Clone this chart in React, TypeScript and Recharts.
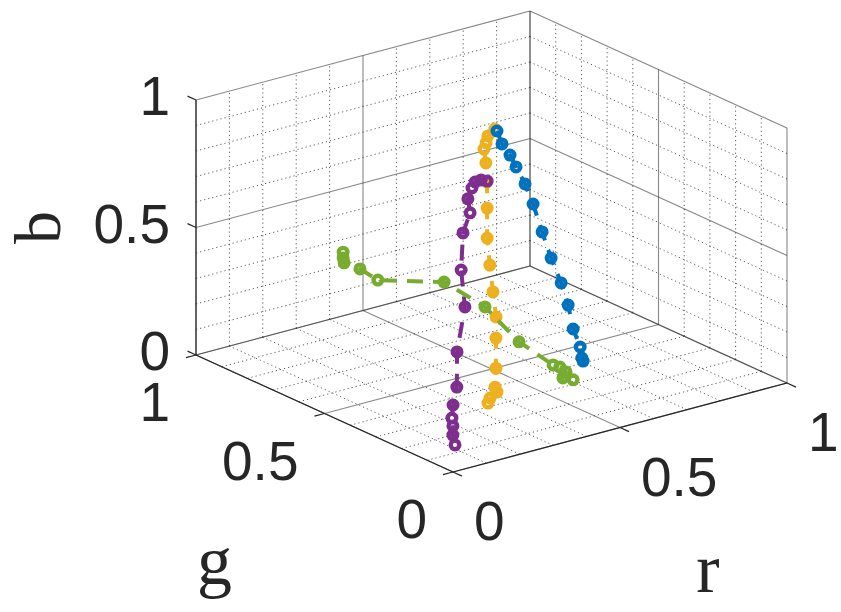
import { ScatterChart, Scatter, XAxis, YAxis } from 'recharts'

const W = 841
const H = 612

// view: screen position of (0,0,0) and the screen step for one unit of r, g, b
const ORIGIN = { x: 453, y: 472 }
const R_DIR = { x: 334, y: -89 }
const G_DIR = { x: -257, y: -117 }
const B_DIR = { x: 0, y: -255 }

// series values (r, g, b)
const YELLOW_R = [0.587, 0.566, 0.553, 0.539, 0.537, 0.525, 0.51, 0.487, 0.472, 0.466, 0.46, 0.444, 0.421, 0.403, 0.401, 0.365, 0.351]
const YELLOW_G = [0.6, 0.6, 0.59, 0.58, 0.57, 0.55, 0.53, 0.5, 0.47, 0.45, 0.43, 0.41, 0.38, 0.36, 0.35, 0.33, 0.32]
const YELLOW_B = [0.865, 0.845, 0.827, 0.812, 0.763, 0.702, 0.614, 0.518, 0.431, 0.337, 0.25, 0.182, 0.086, 0.027, 0.013, 0.011, 0.001]

const BLUE_R = [0.478, 0.493, 0.517, 0.535, 0.562, 0.586, 0.613, 0.64, 0.67, 0.691, 0.706, 0.727, 0.709, 0.705]
const BLUE_G = [0.45, 0.45, 0.45, 0.45, 0.45, 0.45, 0.45, 0.45, 0.45, 0.45, 0.45, 0.45, 0.42, 0.41]
const BLUE_B = [0.964, 0.908, 0.856, 0.803, 0.727, 0.64, 0.521, 0.409, 0.301, 0.207, 0.108, 0.03, 0.007, 0.001]

const PURPLE_R = [0.333, 0.315, 0.297, 0.28, 0.26, 0.259, 0.23, 0.209, 0.205, 0.166, 0.15, 0.131, 0.12, 0.119, 0.115, 0.116]
const PURPLE_G = [0.3, 0.3, 0.3, 0.29, 0.28, 0.27, 0.26, 0.24, 0.22, 0.2, 0.18, 0.17, 0.16, 0.155, 0.15, 0.143]
const PURPLE_B = [0.887, 0.898, 0.896, 0.883, 0.852, 0.802, 0.738, 0.609, 0.475, 0.321, 0.198, 0.139, 0.096, 0.068, 0.036, 0.0]

const GREEN_R = [0.402, 0.402, 0.405, 0.414, 0.429, 0.512, 0.519, 0.544, 0.592, 0.597, 0.6, 0.583, 0.606]
const GREEN_G = [0.95, 0.95, 0.95, 0.9, 0.85, 0.7, 0.55, 0.45, 0.38, 0.36, 0.34, 0.33, 0.32]
const GREEN_B = [0.286, 0.263, 0.243, 0.239, 0.213, 0.245, 0.214, 0.114, 0.039, 0.038, 0.027, 0.014, 0.003]

// axes
const TICKS = [0, 0.5, 1]
const TICK_LABELS = ['0', '0.5', '1']
const GRID_STEPS = [0, 0.1, 0.2, 0.3, 0.4, 0.5, 0.6, 0.7, 0.8, 0.9, 1]

const YELLOW = '#EDB120'
const BLUE = '#0072BD'
const PURPLE = '#7E2F8E'
const GREEN = '#77AC30'
const AXIS = '#262626'

const project = (r: number, g: number, b: number) => ({
  x: ORIGIN.x + r * R_DIR.x + g * G_DIR.x + b * B_DIR.x,
  y: ORIGIN.y + r * R_DIR.y + g * G_DIR.y + b * B_DIR.y,
})

const toPoints = (rs: number[], gs: number[], bs: number[]) =>
  rs.map((r, i) => project(r, gs[i], bs[i]))

type Seg = { a: number[]; b: number[]; major: boolean }

// back walls (g = 1, r = 1) and floor (b = 0)
const gridSegs: Seg[] = []
GRID_STEPS.forEach((v) => {
  const major = TICKS.includes(v)
  gridSegs.push({ a: [0, 1, v], b: [1, 1, v], major })
  gridSegs.push({ a: [v, 1, 0], b: [v, 1, 1], major })
  gridSegs.push({ a: [1, 0, v], b: [1, 1, v], major })
  gridSegs.push({ a: [1, v, 0], b: [1, v, 1], major })
  gridSegs.push({ a: [v, 0, 0], b: [v, 1, 0], major })
  gridSegs.push({ a: [0, v, 0], b: [1, v, 0], major })
})

const axisSegs: number[][][] = [
  [[0, 1, 0], [0, 1, 1]],
  [[0, 0, 0], [1, 0, 0]],
  [[0, 0, 0], [0, 1, 0]],
]
TICKS.forEach((t) => {
  axisSegs.push([[0, 1, t], [0, 1.033, t]])
  axisSegs.push([[t, 0, 0], [t, -0.035, 0]])
  axisSegs.push([[0, t, 0], [-0.03, t, 0]])
})

const segPoints = (a: number[], b: number[]) => [
  project(a[0], a[1], a[2]),
  project(b[0], b[1], b[2]),
]

const noDot = () => <g />

const ring = (color: string) => (props: any) => (
  <circle cx={props.cx} cy={props.cy} r={4.3} fill="none" stroke={color} strokeWidth={4.4} />
)

const textShape = (dx: number, dy: number, anchor: string) => (props: any) => (
  <text
    x={props.cx + dx}
    y={props.cy + dy}
    textAnchor={anchor}
    fontFamily="'Liberation Sans', Arial, sans-serif"
    fontSize={55}
    fill={AXIS}
  >
    {props.payload.text}
  </text>
)

const bLabels = TICKS.map((t, i) => ({ ...project(0, 1, t), text: TICK_LABELS[i] }))
const rLabels = TICKS.map((t, i) => ({ ...project(t, 0, 0), text: TICK_LABELS[i] }))
const gLabels = TICKS.map((t, i) => ({ ...project(0, t, 0), text: TICK_LABELS[i] }))

const axisTitles = [
  { ...project(0, 1, 0.5), text: 'b', dx: -136, dy: 0, rot: true },
  { ...project(0, 0.5, 0), text: 'g', dx: -110, dy: 170, rot: false },
  { ...project(0.5, 0, 0), text: 'r', dx: 88, dy: 164, rot: false },
]

const titleShape = (props: any) => {
  const p = props.payload
  const x = props.cx + p.dx
  const y = props.cy + p.dy
  return (
    <text
      x={x}
      y={y}
      textAnchor="middle"
      transform={p.rot ? `rotate(-90 ${x} ${y})` : undefined}
      fontFamily="'Liberation Serif', 'Times New Roman', serif"
      fontSize={p.rot ? 66 : 70}
      fill={AXIS}
    >
      {p.text}
    </text>
  )
}

const series = [
  { name: 'yellow', color: YELLOW, pts: toPoints(YELLOW_R, YELLOW_G, YELLOW_B) },
  { name: 'blue', color: BLUE, pts: toPoints(BLUE_R, BLUE_G, BLUE_B) },
  { name: 'purple', color: PURPLE, pts: toPoints(PURPLE_R, PURPLE_G, PURPLE_B) },
  { name: 'green', color: GREEN, pts: toPoints(GREEN_R, GREEN_G, GREEN_B) },
]

export default function App() {
  return (
    <div style={{ position: 'absolute', left: 0, top: 0, width: W, height: H, background: '#fff' }}>
      <ScatterChart width={W} height={H} margin={{ top: 0, right: 0, bottom: 0, left: 0 }}>
        <XAxis type="number" dataKey="x" domain={[0, W]} hide allowDataOverflow />
        <YAxis type="number" dataKey="y" domain={[0, H]} reversed hide allowDataOverflow />

        {gridSegs.map((s, i) => (
          <Scatter
            key={`grid-${i}`}
            data={segPoints(s.a, s.b)}
            line={
              s.major
                ? { stroke: AXIS, strokeOpacity: 0.55, strokeWidth: 1.1 }
                : { stroke: AXIS, strokeOpacity: 0.75, strokeWidth: 1, strokeDasharray: '1.2 3' }
            }
            shape={noDot}
            isAnimationActive={false}
          />
        ))}

        {axisSegs.map((s, i) => (
          <Scatter
            key={`axis-${i}`}
            data={segPoints(s[0], s[1])}
            line={{ stroke: AXIS, strokeWidth: 1.2 }}
            shape={noDot}
            isAnimationActive={false}
          />
        ))}

        {series.map((s) => (
          <Scatter
            key={s.name}
            data={s.pts}
            line={{ stroke: s.color, strokeWidth: 4, strokeDasharray: '16 10' }}
            shape={ring(s.color)}
            isAnimationActive={false}
          />
        ))}

        <Scatter data={bLabels} shape={textShape(-26, 15, 'end')} isAnimationActive={false} />
        <Scatter data={rLabels} shape={textShape(21, 68, 'start')} isAnimationActive={false} />
        <Scatter data={gLabels} shape={textShape(-26, 66, 'end')} isAnimationActive={false} />
        <Scatter data={axisTitles} shape={titleShape} isAnimationActive={false} />
      </ScatterChart>
    </div>
  )
}
